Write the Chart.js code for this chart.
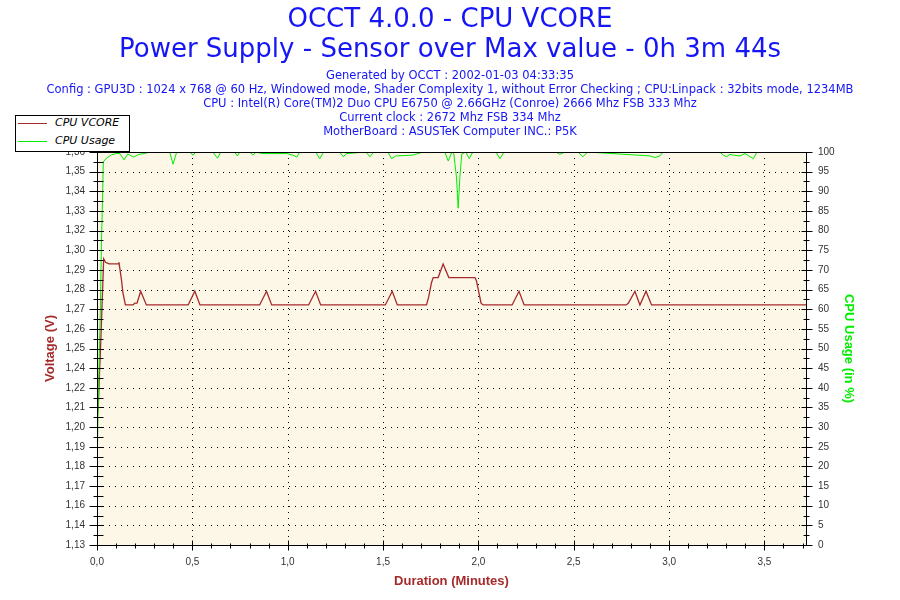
<!DOCTYPE html>
<html>
<head>
<meta charset="utf-8">
<title>OCCT 4.0.0 - CPU VCORE</title>
<script src="https://cdn.jsdelivr.net/npm/chart.js@4.4.1/dist/chart.umd.min.js"></script>
<style>
  html, body { margin: 0; padding: 0; background: #fff; }
  #wrap { position: relative; width: 900px; height: 600px; }
  #legend { position: absolute; left: 15px; top: 115px; width: 113px; height: 35px;
            border: 1px solid #000; background: #fff; font: italic 11px "DejaVu Sans", sans-serif; color: #000; }
  .row { position: absolute; left: 0; width: 100%; height: 14px; }
  .swatch { position: absolute; left: 2px; top: 7px; width: 29px; border-top: 1px solid; }
  .txt { position: absolute; left: 39px; top: 0; line-height: 14px; white-space: nowrap; }
</style>
</head>
<body>
<div id="wrap">
  <canvas id="chart" width="900" height="600"></canvas>
  <div id="legend"></div>
</div>
<script>
// values (time in minutes)
const vcoreMinutes = [0.003, 0.008, 0.014, 0.017, 0.025, 0.035, 0.045, 0.063, 0.112, 0.115, 0.128, 0.136, 0.149,
  0.189, 0.198, 0.210, 0.229, 0.259,
  0.478, 0.513, 0.540,
  0.853, 0.889, 0.916,
  1.110, 1.146, 1.173,
  1.512, 1.548, 1.575,
  1.728, 1.740, 1.754, 1.763, 1.789, 1.815, 1.845, 1.982, 1.990, 2.003, 2.014, 2.025,
  2.177, 2.213, 2.240,
  2.775, 2.786, 2.821, 2.847, 2.879, 2.908,
  3.730];
const vcoreVolts = [1.209, 1.217, 1.236, 1.243, 1.268, 1.300, 1.298, 1.297, 1.297, 1.298, 1.288, 1.280, 1.273,
  1.273, 1.274, 1.274, 1.281, 1.273,
  1.273, 1.281, 1.273,
  1.273, 1.281, 1.273,
  1.273, 1.281, 1.273,
  1.273, 1.281, 1.273,
  1.273, 1.278, 1.286, 1.289, 1.289, 1.297, 1.289, 1.289, 1.287, 1.280, 1.274, 1.273,
  1.273, 1.281, 1.273,
  1.273, 1.274, 1.281, 1.273, 1.281, 1.273,
  1.273];

const usageMinutes = [0.001, 0.006, 0.012, 0.018, 0.023, 0.030, 0.033, 0.051, 0.077, 0.103, 0.119, 0.142, 0.161,
  0.193, 0.219, 0.250, 0.276, 0.381, 0.399, 0.418, 0.486, 0.504, 0.518, 0.607, 0.632, 0.649, 0.722, 0.736, 0.749,
  0.801, 0.818, 0.833, 0.864, 0.995, 1.027, 1.048, 1.063, 1.147, 1.168, 1.189, 1.273, 1.291, 1.310, 1.410, 1.431,
  1.452, 1.526, 1.545, 1.567, 1.656, 1.709, 1.824, 1.842, 1.861, 1.871, 1.885, 1.894, 1.903, 1.913, 1.934, 1.952,
  1.971, 2.092, 2.113, 2.134, 2.407, 2.427, 2.454, 2.522, 2.548, 2.574, 2.900, 2.926, 2.952, 2.968, 3.267, 3.284,
  3.302, 3.319, 3.337, 3.372, 3.398, 3.442, 3.461, 3.730];
const usagePercent = [19.6, 35, 48, 61, 76, 90, 97.5, 98.5, 99.3, 99.6, 99.6, 98.0, 99.5,
  98.7, 99.4, 99.6, 100, 100, 96.9, 100, 100, 99.2, 100, 100, 98.4, 100, 100, 99.0, 100,
  100, 99.2, 100, 99.6, 99.6, 99.2, 98.7, 100, 100, 98.3, 100, 100, 98.8, 99.6, 100, 98.8,
  100, 100, 98.3, 99.0, 99.2, 100, 100, 97.7, 100, 99.5, 93.6, 85.7, 93.6, 99.5, 100, 98.3,
  100, 100, 98.3, 100, 100, 99.4, 100, 100, 98.8, 100, 99.0, 98.6, 99.0, 100, 100, 99.2,
  98.8, 99.4, 99.2, 99.0, 99.6, 98.3, 100, 100];

const voltTickLabels = ['1,13', '1,14', '1,16', '1,17', '1,18', '1,19', '1,20', '1,21', '1,22', '1,24', '1,25',
  '1,26', '1,27', '1,28', '1,29', '1,30', '1,32', '1,33', '1,34', '1,35', '1,36'];
const usageTicks = [0, 5, 10, 15, 20, 25, 30, 35, 40, 45, 50, 55, 60, 65, 70, 75, 80, 85, 90, 95, 100];
const durationTicks = [0, 0.5, 1.0, 1.5, 2.0, 2.5, 3.0, 3.5];

const VOLT_MIN = 1.1325;
const VOLT_MAX = 1.3625;
const X_MAX = 3.718;

const BLUE = '#1515f5';
const RED = '#a52a2a';
const GREEN = '#00ee00';
const PLOT_BG = '#fdf7e8';
const TICK_FONT = { family: 'Liberation Sans', size: 10 };

const voltStep = (VOLT_MAX - VOLT_MIN) / (voltTickLabels.length - 1);
const voltTickValues = voltTickLabels.map((_, i) => VOLT_MIN + i * voltStep);

// dotted grid, plot background, axis frame and tick marks
const frame = {
  id: 'frame',
  beforeDatasetsDraw(chart) {
    const { ctx, chartArea: a, scales } = chart;
    ctx.save();
    ctx.fillStyle = PLOT_BG;
    ctx.fillRect(a.left, a.top, a.right - a.left, a.bottom - a.top);
    ctx.strokeStyle = '#000';
    ctx.lineWidth = 1;
    ctx.setLineDash([1, 5]);
    voltTickValues.slice(1, -1).forEach(v => {
      const y = Math.round(scales.yVolt.getPixelForValue(v)) + 0.5;
      ctx.beginPath(); ctx.moveTo(a.left + 6, y); ctx.lineTo(a.right - 5, y); ctx.stroke();
    });
    durationTicks.slice(1).forEach(v => {
      const x = Math.round(scales.x.getPixelForValue(v)) + 0.5;
      ctx.beginPath(); ctx.moveTo(x, a.top); ctx.lineTo(x, a.bottom - 5); ctx.stroke();
    });
    ctx.restore();
  },
  afterDatasetsDraw(chart) {
    const { ctx, chartArea: a, scales } = chart;
    const L = Math.round(a.left) + 0.5, R = Math.round(a.right) + 0.5;
    const T = Math.round(a.top) + 0.5, B = Math.round(a.bottom) + 0.5;
    ctx.save();
    ctx.strokeStyle = '#000';
    ctx.lineWidth = 1;
    ctx.strokeRect(L, T, R - L, B - T);
    const seg = (x1, y1, x2, y2) => { ctx.beginPath(); ctx.moveTo(x1, y1); ctx.lineTo(x2, y2); ctx.stroke(); };
    // left axis
    voltTickValues.forEach((v, i) => {
      const y = Math.round(scales.yVolt.getPixelForValue(v)) + 0.5;
      seg(L - 8, y, L + 6, y);
      if (i < voltTickValues.length - 1) {
        const ym = Math.round(scales.yVolt.getPixelForValue(v + voltStep / 2)) + 0.5;
        seg(L - 4, ym, L + 6, ym);
      }
    });
    // right axis
    usageTicks.forEach((v, i) => {
      const y = Math.round(scales.yUsage.getPixelForValue(v)) + 0.5;
      seg(R - 5, y, R + 6, y);
      if (i < usageTicks.length - 1) {
        const ym = Math.round(scales.yUsage.getPixelForValue(v + 2.5)) + 0.5;
        seg(R - 3, ym, R + 3, ym);
      }
    });
    // bottom axis, minor every 0.1 min
    durationTicks.forEach(v => {
      const x = Math.round(scales.x.getPixelForValue(v)) + 0.5;
      seg(x, B - 5, x, B + 5);
    });
    for (let k = 1; k <= 37; k++) {
      if (k % 5 === 0) continue;
      const x = Math.round(scales.x.getPixelForValue(k / 10)) + 0.5;
      seg(x, B - 2, x, B + 3);
    }
    ctx.restore();
  }
};

const ctx = document.getElementById('chart').getContext('2d');
const chart = new Chart(ctx, {
  type: 'line',
  data: {
    datasets: [
      {
        label: 'CPU VCORE',
        data: vcoreMinutes.map((t, i) => ({ x: t, y: vcoreVolts[i] })),
        yAxisID: 'yVolt',
        borderColor: RED,
        borderWidth: 1.3,
        pointRadius: 0,
        tension: 0,
        order: 1
      },
      {
        label: 'CPU Usage',
        data: usageMinutes.map((t, i) => ({ x: t, y: usagePercent[i] })),
        yAxisID: 'yUsage',
        borderColor: GREEN,
        borderWidth: 1,
        pointRadius: 0,
        tension: 0,
        order: 0
      }
    ]
  },
  options: {
    responsive: false,
    animation: false,
    events: [],
    layout: { padding: 0 },
    plugins: {
      legend: { display: false },
      tooltip: { enabled: false },
      title: {
        display: true,
        text: ['OCCT 4.0.0 - CPU VCORE', 'Power Supply - Sensor over Max value - 0h 3m 44s'],
        color: BLUE,
        font: { family: 'DejaVu Sans', size: 26, weight: 'normal', lineHeight: '30px' },
        padding: { top: 5, bottom: 3 }
      },
      subtitle: {
        display: true,
        text: [
          'Generated by OCCT : 2002-01-03 04:33:35',
          'Config : GPU3D : 1024 x 768 @ 60 Hz, Windowed mode, Shader Complexity 1, without Error Checking ; CPU:Linpack : 32bits mode, 1234MB',
          'CPU : Intel(R) Core(TM)2 Duo CPU E6750 @ 2.66GHz (Conroe) 2666 Mhz FSB 333 Mhz',
          'Current clock : 2672 Mhz FSB 334 Mhz',
          'MotherBoard : ASUSTeK Computer INC.: P5K'
        ],
        color: BLUE,
        font: { family: 'DejaVu Sans', size: 11.5, lineHeight: '14px' },
        padding: { top: 1, bottom: 13 }
      }
    },
    scales: {
      x: {
        type: 'linear',
        min: 0,
        max: X_MAX,
        afterBuildTicks: s => { s.ticks = durationTicks.map(v => ({ value: v })); },
        afterFit: s => { s.height = 55; },
        ticks: {
          autoSkip: false, maxRotation: 0, padding: 11, color: '#333', font: TICK_FONT,
          callback: v => v.toFixed(1).replace('.', ',')
        },
        grid: { display: false, drawTicks: false },
        border: { display: false },
        title: {
          display: true, text: 'Duration (Minutes)', color: RED,
          font: { family: 'Liberation Sans', size: 13, weight: 'bold' },
          padding: { top: 0, bottom: 11 }
        }
      },
      yVolt: {
        type: 'linear',
        position: 'left',
        min: VOLT_MIN,
        max: VOLT_MAX,
        afterBuildTicks: s => { s.ticks = voltTickValues.map(v => ({ value: v })); },
        afterFit: s => { s.width = 97; },
        ticks: {
          autoSkip: false, padding: 12, color: '#333', font: TICK_FONT,
          callback: (v, i) => voltTickLabels[i]
        },
        grid: { display: false, drawTicks: false },
        border: { display: false },
        title: {
          display: true, text: 'Voltage (V)', color: RED,
          font: { family: 'Liberation Sans', size: 13, weight: 'bold' },
          padding: { top: 43, bottom: 0 }
        }
      },
      yUsage: {
        type: 'linear',
        position: 'right',
        min: 0,
        max: 100,
        afterBuildTicks: s => { s.ticks = usageTicks.map(v => ({ value: v })); },
        afterFit: s => { s.width = 94; },
        ticks: { autoSkip: false, padding: 12, color: '#333', font: TICK_FONT },
        grid: { display: false, drawTicks: false },
        border: { display: false },
        title: {
          display: true, text: 'CPU Usage (in %)', color: GREEN,
          font: { family: 'Liberation Sans', size: 13, weight: 'bold' },
          padding: { top: 44, bottom: 0 }
        }
      }
    }
  },
  plugins: [frame]
});

// legend box in the top-left corner
const legend = document.getElementById('legend');
chart.data.datasets.forEach((ds, i) => {
  const row = document.createElement('div');
  row.className = 'row';
  row.style.top = (i * 18) + 'px';
  row.innerHTML = '<span class="swatch" style="border-color:' + ds.borderColor + '"></span>' +
                  '<span class="txt">' + ds.label + '</span>';
  legend.appendChild(row);
});
</script>
</body>
</html>
